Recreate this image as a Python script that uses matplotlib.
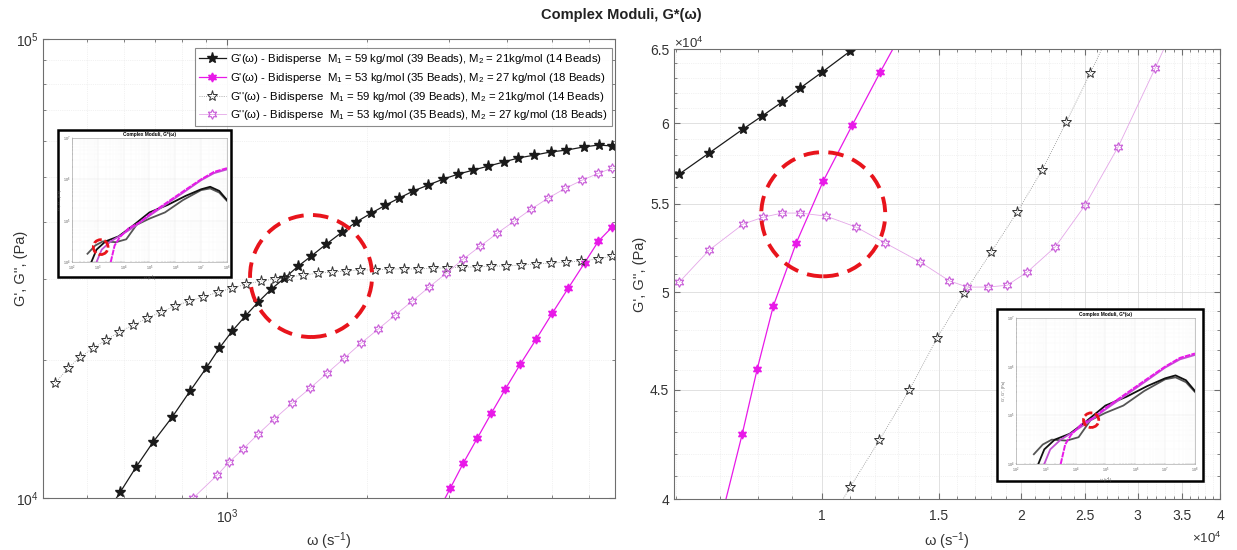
import numpy as np
import matplotlib.pyplot as plt
from matplotlib.patches import Ellipse, Rectangle
from matplotlib.ticker import FixedLocator, FixedFormatter, NullFormatter, LogLocator

plt.rcParams['font.family'] = ['Liberation Sans', 'DejaVu Sans']
plt.rcParams['mathtext.fontset'] = 'custom'
plt.rcParams['mathtext.rm'] = 'Liberation Sans'
plt.rcParams['mathtext.it'] = 'Liberation Sans:italic'

# ---- left panel (log-log), omega in 1/s, moduli in Pa ----
w_gp_59 = [544, 589, 637, 693, 762, 832, 901, 962, 1025, 1094, 1166, 1244, 1327, 1422, 1516,
           1633, 1767, 1893, 2040, 2188, 2344, 2512, 2705, 2915, 3140, 3381, 3641, 3926,
           4226, 4571, 4953, 5358, 5834, 6281, 6730]
gp_59 = [9.09e3, 1.03e4, 1.168e4, 1.324e4, 1.502e4, 1.710e4, 1.919e4, 2.122e4, 2.311e4, 2.492e4,
         2.673e4, 2.852e4, 3.013e4, 3.202e4, 3.367e4, 3.575e4, 3.798e4, 3.993e4, 4.175e4,
         4.345e4, 4.505e4, 4.666e4, 4.808e4, 4.955e4, 5.08e4, 5.183e4, 5.287e4, 5.395e4,
         5.508e4, 5.585e4, 5.675e4, 5.728e4, 5.82e4, 5.875e4, 5.848e4]

w_gpp_59 = [427, 455, 483, 515, 549, 586, 628, 673, 721, 773, 828, 888, 957, 1025, 1099,
            1183, 1268, 1359, 1456, 1569, 1682, 1803, 1932, 2080, 2229, 2402, 2575, 2773,
            2972, 3201, 3448, 3696, 3981, 4289, 4620, 4973, 5358, 5770, 6250, 6730]
gpp_59 = [1.781e4, 1.919e4, 2.028e4, 2.122e4, 2.208e4, 2.300e4, 2.382e4, 2.466e4, 2.543e4,
          2.62e4, 2.687e4, 2.741e4, 2.81e4, 2.868e4, 2.925e4, 2.971e4, 3.0e4, 3.03e4, 3.06e4,
          3.09e4, 3.107e4, 3.123e4, 3.14e4, 3.14e4, 3.155e4, 3.155e4, 3.155e4, 3.17e4,
          3.17e4, 3.186e4, 3.186e4, 3.202e4, 3.202e4, 3.218e4, 3.235e4, 3.25e4, 3.266e4,
          3.283e4, 3.317e4, 3.367e4]

w_gp_53 = [2828, 3017, 3218, 3449, 3697, 3962, 4267, 4617, 5000, 5410, 5860, 6280, 6730]
gp_53 = [9.27e3, 1.051e4, 1.192e4, 1.351e4, 1.531e4, 1.728e4, 1.958e4, 2.221e4, 2.53e4,
         2.868e4, 3.251e4, 3.63e4, 3.9e4]

w_gpp_53 = [845, 952, 1010, 1082, 1166, 1262, 1380, 1508, 1641, 1785, 1941, 2112, 2297,
            2500, 2718, 2958, 3218, 3500, 3808, 4142, 4505, 4900, 5330, 5800, 6280, 6730]
gpp_53 = [1.0e4, 1.122e4, 1.198e4, 1.279e4, 1.379e4, 1.486e4, 1.61e4, 1.736e4, 1.872e4,
          2.018e4, 2.176e4, 2.334e4, 2.505e4, 2.687e4, 2.883e4, 3.09e4, 3.317e4, 3.54e4,
          3.778e4, 4.013e4, 4.263e4, 4.505e4, 4.73e4, 4.93e4, 5.10e4, 5.236e4]

# ---- right panel (zoom around 1e4 1/s), first/last points lie just outside the window ----
wr_gp_59 = [6077, 6746, 7596, 8115, 8699, 9263, 10000, 11024, 12150]
gr_gp_59 = [5.68e4, 5.811e4, 5.964e4, 6.048e4, 6.14e4, 6.233e4, 6.341e4, 6.486e4, 6.64e4]

wr_gp_53 = [6818, 7568, 7974, 8433, 9134, 10035, 11102, 12240, 13490]
gr_gp_53 = [3.77e4, 4.291e4, 4.603e4, 4.926e4, 5.273e4, 5.637e4, 5.988e4, 6.341e4, 6.70e4]

wr_gpp_59 = [10000, 11024, 12197, 13541, 14928, 16400, 18018, 19724, 21520, 23390, 25430,
             27550]
gr_gpp_59 = [3.85e4, 4.052e4, 4.261e4, 4.499e4, 4.76e4, 4.995e4, 5.222e4, 5.452e4, 5.705e4,
             6.007e4, 6.332e4, 6.67e4]

wr_gpp_53 = [6077, 6746, 7596, 8142, 8699, 9263, 10140, 11255, 12452, 14066, 15565, 16573,
             17828, 19050, 20424, 22511, 24995, 28036, 31906, 36000]
gr_gpp_53 = [5.055e4, 5.233e4, 5.382e4, 5.422e4, 5.446e4, 5.446e4, 5.428e4, 5.364e4, 5.273e4,
             5.166e4, 5.062e4, 5.028e4, 5.028e4, 5.038e4, 5.11e4, 5.25e4, 5.493e4, 5.849e4,
             6.369e4, 6.92e4]

# ---- small overview curves (log10 values) ----
ov_gp_59_u = [2.75, 2.95, 3.3, 3.8, 4.3, 5.0, 5.7, 6.4, 7.0, 7.35, 7.7, 8.0]
ov_gp_59_v = [4.0, 4.3, 4.5, 4.62, 4.85, 5.2, 5.38, 5.6, 5.76, 5.82, 5.72, 5.5]
ov_gpp_59_u = [2.6, 2.9, 3.2, 3.7, 4.1, 4.5, 5.0, 5.6, 6.3, 7.0, 7.35, 7.7, 8.0]
ov_gpp_59_v = [4.2, 4.4, 4.5, 4.48, 4.55, 4.9, 5.05, 5.2, 5.5, 5.74, 5.78, 5.68, 5.48]
ov_gp_53_u = [3.5, 3.65, 3.85, 4.2, 4.6, 5.0, 5.7, 6.4, 7.0, 7.5, 8.0]
ov_gp_53_v = [4.0, 4.4, 4.6, 4.82, 4.95, 5.15, 5.45, 5.75, 6.0, 6.18, 6.27]
ov_gpp_53_u = [2.95, 3.15, 3.5, 3.9, 4.4, 5.0, 5.7, 6.4, 7.0, 7.5, 8.0]
ov_gpp_53_v = [4.0, 4.3, 4.5, 4.65, 4.85, 5.12, 5.42, 5.72, 5.98, 6.15, 6.24]

labels = [
    "G'(\u03c9) - Bidisperse  M$_1$ = 59 kg/mol (39 Beads), M$_2$ = 21kg/mol (14 Beads)",
    "G'(\u03c9) - Bidisperse  M$_1$ = 53 kg/mol (35 Beads), M$_2$ = 27 kg/mol (18 Beads)",
    "G''(\u03c9) - Bidisperse  M$_1$ = 59 kg/mol (39 Beads), M$_2$ = 21kg/mol (14 Beads)",
    "G''(\u03c9) - Bidisperse  M$_1$ = 53 kg/mol (35 Beads), M$_2$ = 27 kg/mol (18 Beads)",
]

BLACK = '#1a1a1a'
MAG = '#e819e8'
GRAY = '#8c8c8c'
PINK = '#e4a6e8'
PINK_M = '#c85cd8'
HEX = (6, 1, 0)

sty_gp59 = dict(color=BLACK, lw=0.9, marker='*', ms=8, mfc=BLACK, mec=BLACK)
sty_gp53 = dict(color=MAG, lw=0.9, marker=HEX, ms=6.5, mfc=MAG, mec=MAG)
sty_gpp59 = dict(color=GRAY, lw=0.6, ls=':', marker='*', ms=8, mfc='none', mec='#333333', mew=0.7)
sty_gpp53 = dict(color=PINK, lw=0.6, ls='-', marker=HEX, ms=7, mfc='none', mec=PINK_M, mew=0.8)

SPINE = '#6e6e6e'
TXT = '#333333'


def style_axes(ax, fs=10):
    for s in ax.spines.values():
        s.set_color(SPINE)
        s.set_linewidth(0.8)
    ax.tick_params(which='both', direction='in', top=True, right=True, colors=SPINE,
                   labelcolor=TXT, labelsize=fs)
    ax.tick_params(which='major', length=4)
    ax.tick_params(which='minor', length=2.5)
    ax.tick_params(axis='x', which='both', pad=7)
    ax.grid(True, which='major', color='#dcdcdc', lw=0.6)
    ax.grid(True, which='minor', color='#e6e6e6', lw=0.5, ls=':')
    ax.set_axisbelow(True)


fig = plt.figure(figsize=(12.37, 5.5), dpi=100)

# left panel
ax1 = fig.add_axes([0.0348, 0.0945, 0.4625, 0.8345])
ax1.set_xscale('log')
ax1.set_yscale('log')
ax1.plot(w_gp_59, gp_59, label=labels[0], **sty_gp59)
ax1.plot(w_gp_53, gp_53, label=labels[1], **sty_gp53)
ax1.plot(w_gpp_59, gpp_59, label=labels[2], **sty_gpp59)
ax1.plot(w_gpp_53, gpp_53, label=labels[3], **sty_gpp53)
ax1.set_xlim(402, 6820)
ax1.set_ylim(1e4, 1e5)
style_axes(ax1)
ax1.xaxis.set_minor_formatter(NullFormatter())
ax1.yaxis.set_minor_formatter(NullFormatter())
ax1.set_xlabel('\u03c9 (s$^{-1}$)', fontsize=10.5, color=TXT)
ax1.xaxis.set_label_coords(0.5, -0.07)
ax1.set_ylabel("G', G'', (Pa)", fontsize=10.5, color=TXT)
ax1.yaxis.set_label_coords(-0.027, 0.5)
ax1.add_patch(Ellipse((0.4685, 0.4837), 0.2133, 0.2658, transform=ax1.transAxes,
                      fill=False, ec='#e8141c', lw=2.8, ls=(0, (4, 2.4)), zorder=5))
leg = ax1.legend(loc='upper right', bbox_to_anchor=(1.004, 0.992), fontsize=8.2,
                 frameon=True, fancybox=False, edgecolor='#6e6e6e', handlelength=2.3,
                 borderpad=0.35, labelspacing=0.4, handletextpad=0.4)
leg.get_frame().set_linewidth(0.8)
leg.set_zorder(10)

# right panel
ax2 = fig.add_axes([0.545, 0.0927, 0.4414, 0.818])
ax2.set_xscale('log')
ax2.set_yscale('log')
ax2.plot(wr_gp_59, gr_gp_59, **sty_gp59)
ax2.plot(wr_gp_53, gr_gp_53, **sty_gp53)
ax2.plot(wr_gpp_59, gr_gpp_59, **sty_gpp59)
ax2.plot(wr_gpp_53, gr_gpp_53, **sty_gpp53)
ax2.set_xlim(5970, 4.0e4)
ax2.set_ylim(4.0e4, 6.5e4)
style_axes(ax2)
xt = [1e4, 1.5e4, 2e4, 2.5e4, 3e4, 3.5e4, 4e4]
ax2.xaxis.set_major_locator(FixedLocator(xt))
ax2.xaxis.set_major_formatter(FixedFormatter(['1', '1.5', '2', '2.5', '3', '3.5', '4']))
ax2.xaxis.set_minor_locator(FixedLocator(np.arange(6000, 40000, 1000)))
ax2.xaxis.set_minor_formatter(NullFormatter())
yt = [4e4, 4.5e4, 5e4, 5.5e4, 6e4, 6.5e4]
ax2.yaxis.set_major_locator(FixedLocator(yt))
ax2.yaxis.set_major_formatter(FixedFormatter(['4', '4.5', '5', '5.5', '6', '6.5']))
ax2.yaxis.set_minor_locator(FixedLocator(np.arange(40000, 65000, 1000)))
ax2.yaxis.set_minor_formatter(NullFormatter())
ax2.set_xlabel('\u03c9 (s$^{-1}$)', fontsize=10.5, color=TXT)
ax2.xaxis.set_label_coords(0.5, -0.07)
ax2.set_ylabel("G', G'', (Pa)", fontsize=10.5, color=TXT)
ax2.yaxis.set_label_coords(-0.05, 0.5)
ax2.text(0.0, 1.013, '\u00d710$^4$', transform=ax2.transAxes, fontsize=9.5, color=TXT,
         ha='left', va='center')
ax2.text(1.003, -0.087, '\u00d710$^4$', transform=ax2.transAxes, fontsize=9.5, color=TXT,
         ha='right', va='center')
ax2.add_patch(Ellipse((0.273, 0.633), 0.227, 0.276, transform=ax2.transAxes,
                      fill=False, ec='#e8141c', lw=2.8, ls=(0, (4, 2.4)), zorder=5))


def overview(frame, box, mark):
    # framed thumbnail of the full-range curves
    fig.add_artist(Rectangle(frame[:2], frame[2], frame[3], transform=fig.transFigure,
                             fc='white', ec='black', lw=1.8, zorder=1))
    ax = fig.add_axes(box)
    ax.set_zorder(2)
    ax.set_xscale('log')
    ax.set_yscale('log')
    ax.plot(10 ** np.array(ov_gpp_59_u), 10 ** np.array(ov_gpp_59_v), color='#555555', lw=1.3)
    ax.plot(10 ** np.array(ov_gp_59_u), 10 ** np.array(ov_gp_59_v), color='#111111', lw=1.3)
    ax.plot(10 ** np.array(ov_gpp_53_u), 10 ** np.array(ov_gpp_53_v), color='#c24fd4', lw=1.3)
    ax.plot(10 ** np.array(ov_gp_53_u), 10 ** np.array(ov_gp_53_v), color=MAG, lw=1.4, ls=(0, (3, 0.5)))
    ax.set_xlim(1e2, 1e8)
    ax.set_ylim(1e4, 1e7)
    ax.xaxis.set_major_locator(LogLocator(numticks=10))
    ax.yaxis.set_major_locator(LogLocator(numticks=10))
    ax.xaxis.set_minor_formatter(NullFormatter())
    ax.yaxis.set_minor_formatter(NullFormatter())
    for s in ax.spines.values():
        s.set_color('#999999')
        s.set_linewidth(0.4)
    ax.tick_params(which='both', direction='in', length=1, width=0.3, colors='#999999',
                   labelsize=2.6, labelcolor='#555555', pad=1)
    ax.grid(True, which='major', color='#e4e4e4', lw=0.3)
    ax.grid(True, which='minor', color='#eeeeee', lw=0.25, ls=':')
    ax.set_title('Complex Moduli, G*(\u03c9)', fontsize=3.4, fontweight='bold', pad=1.5)
    ax.set_xlabel('\u03c9 (s$^{-1}$)', fontsize=2.8, labelpad=0.5, color='#555555')
    ax.set_ylabel("G', G'', (Pa)", fontsize=2.8, labelpad=0.5, color='#555555')
    ax.add_patch(Ellipse(mark[:2], mark[2], mark[3], transform=ax.transAxes, fill=False,
                         ec='#e8141c', lw=2.0, ls=(0, (3, 1)), zorder=5))


overview([0.0469, 0.4964, 0.1399, 0.2673], [0.0582, 0.5236, 0.1253, 0.2255],
         (0.185, 0.12, 0.095, 0.12))
overview([0.806, 0.1255, 0.1665, 0.3127], [0.8213, 0.1564, 0.1447, 0.2655],
         (0.42, 0.30, 0.085, 0.10))

fig.text(0.502, 0.972, 'Complex Moduli, G*(\u03c9)', ha='center', va='center',
         fontsize=10.5, fontweight='bold', color='#222222')

fig.savefig('out.png', dpi=100)
